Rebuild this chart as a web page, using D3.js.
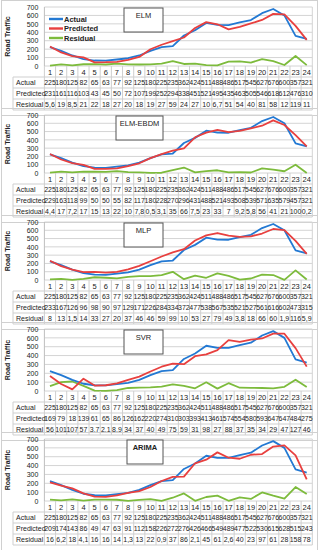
<!DOCTYPE html>
<html>
<head>
<meta charset="utf-8">
<script src="https://cdn.jsdelivr.net/npm/d3@7"></script>
<style>
  body { margin: 0; background: #fff; }
  svg { font-family: "Liberation Sans", Arial, sans-serif; }
</style>
</head>
<body>
<svg id="chart" width="319" height="550"></svg>
<script>
// hours of the day
let hours = [1,2,3,4,5,6,7,8,9,10,11,12,13,14,15,16,17,18,19,20,21,22,23,24];
let yTicks = [0,100,200,300,400,500,600,700];

let actual = [225,180,125,82,65,63,77,92,125,180,225,235,362,424,511,488,486,517,545,627,676,600,357,321];

let elmPred = [231,161,116,103,43,45,50,72,107,199,252,294,338,451,521,495,435,463,505,546,618,612,476,310];
let elmRes = [5.6,19,8.5,21,22,18,27,20,18,19,27,59,24,27,10,6.7,51,54,40,81,58,12,119,11];

let ebdmPred = [229,163,118,99,50,50,55,82,117,180,228,270,296,431,488,521,493,508,539,571,635,579,457,321];
let ebdmRes = [4.4,17,7.2,17,15,13,22,10,7.8,0.5,3.1,35,66,7.5,23,33,7,9.2,5.8,56,41,21,100,0.2];

let mlpPred = [233,167,126,96,98,90,97,129,171,226,284,334,372,477,538,567,535,521,527,561,616,602,473,315];
let mlpRes = [8,13,1.5,14,33,27,20,37,46,46,59,99,10,53,27,79,49,3.8,18,66,60,1.9,116,5.9];

let svrPred = [169,79,18,139,61,65,86,126,162,220,274,310,303,393,413,461,574,554,580,593,647,647,484,275];
let svrRes = [56,101,107,57,3.7,2.1,8.9,34,37,40,49,75,59,31,98,27,88,37,35,34,29,47,127,46];

let arimaPred = [209,174,143,86,49,47,63,91,112,158,226,272,276,426,466,549,489,477,522,530,615,628,515,243];
let arimaRes = [16,6.2,18,4.1,16,16,14,1.3,13,22,0.9,37,86,2.1,45,61,2.6,40,23,97,61,28,158,78];

let models = ["ELM", "ELM-EBDM", "MLP", "SVR", "ARIMA"];
let preds = [elmPred, ebdmPred, mlpPred, svrPred, arimaPred];
let resids = [elmRes, ebdmRes, mlpRes, svrRes, arimaRes];
let rowNames = ["Actual", "Predicted", "Residual"];

// layout
let plotTops = [7, 115, 222, 329, 439];
let plotHs = [59, 58, 58, 62, 62];
let left = 44.4, right = 312.3;
let rowH = 11;
let colors = {actual: "#2379d3", pred: "#e8403f", res: "#7dbb3c"};

let svg = d3.select("#chart");

let x = d3.scaleBand().domain(hours).range([left, right]);
let fmt = v => String(v).replace(".", ",");

models.forEach((name, i) => {
  let top = plotTops[i];
  let bottom = top + plotHs[i];
  let y = d3.scaleLinear().domain([0, 700]).range([bottom, top]);
  let g = svg.append("g");

  // panel frame
  g.append("rect")
    .attr("x", 1.5).attr("y", top - 6.5)
    .attr("width", 316).attr("height", plotHs[i] + 4 * rowH + 12)
    .attr("fill", "none").attr("stroke", "#d0d0d0");

  // gridlines
  g.selectAll("line.grid").data(yTicks).enter().append("line")
    .attr("x1", left).attr("x2", right)
    .attr("y1", d => y(d)).attr("y2", d => y(d))
    .attr("stroke", "#d4d4d4").attr("stroke-width", 1);
  g.append("line").attr("x1", left).attr("x2", left).attr("y1", top).attr("y2", bottom)
    .attr("stroke", "#bfbfbf");
  g.append("line").attr("x1", right).attr("x2", right).attr("y1", top).attr("y2", bottom)
    .attr("stroke", "#d4d4d4");

  // y axis
  let yAxis = g.append("g").attr("transform", `translate(${left},0)`)
    .call(d3.axisLeft(y).tickValues(yTicks).tickSize(0).tickPadding(6));
  yAxis.select(".domain").remove();
  yAxis.selectAll("text").attr("font-size", 7).attr("fill", "#222")
    .attr("font-family", "Liberation Sans, Arial, sans-serif");

  g.append("text")
    .attr("transform", `translate(10,${(top + bottom) / 2}) rotate(-90)`)
    .attr("text-anchor", "middle").attr("font-size", 7).attr("font-weight", "bold")
    .attr("fill", "#222").text("Road Traffic");

  // title box
  let bx = i == 4 ? 127 : (i == 1 ? 116 : 124);
  g.append("rect")
    .attr("x", bx).attr("y", top + 1).attr("width", 163 - bx).attr("height", 24)
    .attr("fill", "#fff").attr("stroke", "#555").attr("stroke-width", 1);
  g.append("text")
    .attr("x", (bx + 163) / 2).attr("y", top + 11)
    .attr("text-anchor", "middle").attr("font-size", 7.5)
    .attr("font-weight", i == 4 ? "bold" : "normal")
    .attr("fill", "#222").text(name);

  // lines
  let line = d3.line().x((d, j) => x(hours[j]) + x.bandwidth() / 2).y(d => y(d));
  [[resids[i], colors.res], [actual, colors.actual], [preds[i], colors.pred]].forEach(([vals, c]) => {
    g.append("path").datum(vals).attr("d", line)
      .attr("fill", "none").attr("stroke", c).attr("stroke-width", 1.8)
      .attr("stroke-linejoin", "round");
  });

  // table
  let tTop = bottom;
  let tBottom = bottom + 4 * rowH;
  g.selectAll("line.v").data(d3.range(25)).enter().append("line")
    .attr("x1", k => left + k * x.step()).attr("x2", k => left + k * x.step())
    .attr("y1", tTop).attr("y2", tBottom)
    .attr("stroke", "#cfcfcf");
  g.selectAll("line.h").data([1, 2, 3, 4]).enter().append("line")
    .attr("x1", 13).attr("x2", right)
    .attr("y1", k => tTop + k * rowH).attr("y2", k => tTop + k * rowH)
    .attr("stroke", "#cfcfcf");
  g.append("line").attr("x1", 13).attr("x2", 13)
    .attr("y1", tTop + rowH).attr("y2", tBottom).attr("stroke", "#cfcfcf");

  g.selectAll("text.cat").data(hours).enter().append("text")
    .attr("x", d => x(d) + x.bandwidth() / 2).attr("y", tTop + rowH / 2 + 3)
    .attr("text-anchor", "middle").attr("font-size", 7.5).attr("fill", "#222")
    .text(d => d);

  let rows = [actual, preds[i], resids[i]];
  rows.forEach((vals, r) => {
    let cy = tTop + (r + 1) * rowH + rowH / 2 + 2.6;
    g.append("text").attr("x", 16).attr("y", cy)
      .attr("font-size", 7).attr("fill", "#222").text(rowNames[r]);
    g.selectAll("text.r" + r).data(vals).enter().append("text")
      .attr("x", (d, j) => x(hours[j]) + x.bandwidth() / 2).attr("y", cy)
      .attr("text-anchor", "middle").attr("font-size", 7).attr("fill", "#222")
      .text(d => fmt(d));
  });

  // legend on first panel only
  if (i == 0) {
    let leg = [["Actual", colors.actual], ["Predicted", colors.pred], ["Residual", colors.res]];
    leg.forEach(([t, c], k) => {
      let ly = top + 12 + k * 9.5;
      g.append("line").attr("x1", 49).attr("x2", 63).attr("y1", ly).attr("y2", ly)
        .attr("stroke", c).attr("stroke-width", 2.4);
      g.append("text").attr("x", 64).attr("y", ly + 2.5)
        .attr("font-size", 7.5).attr("font-weight", "bold").attr("fill", "#222").text(t);
    });
  }
});
</script>
</body>
</html>
